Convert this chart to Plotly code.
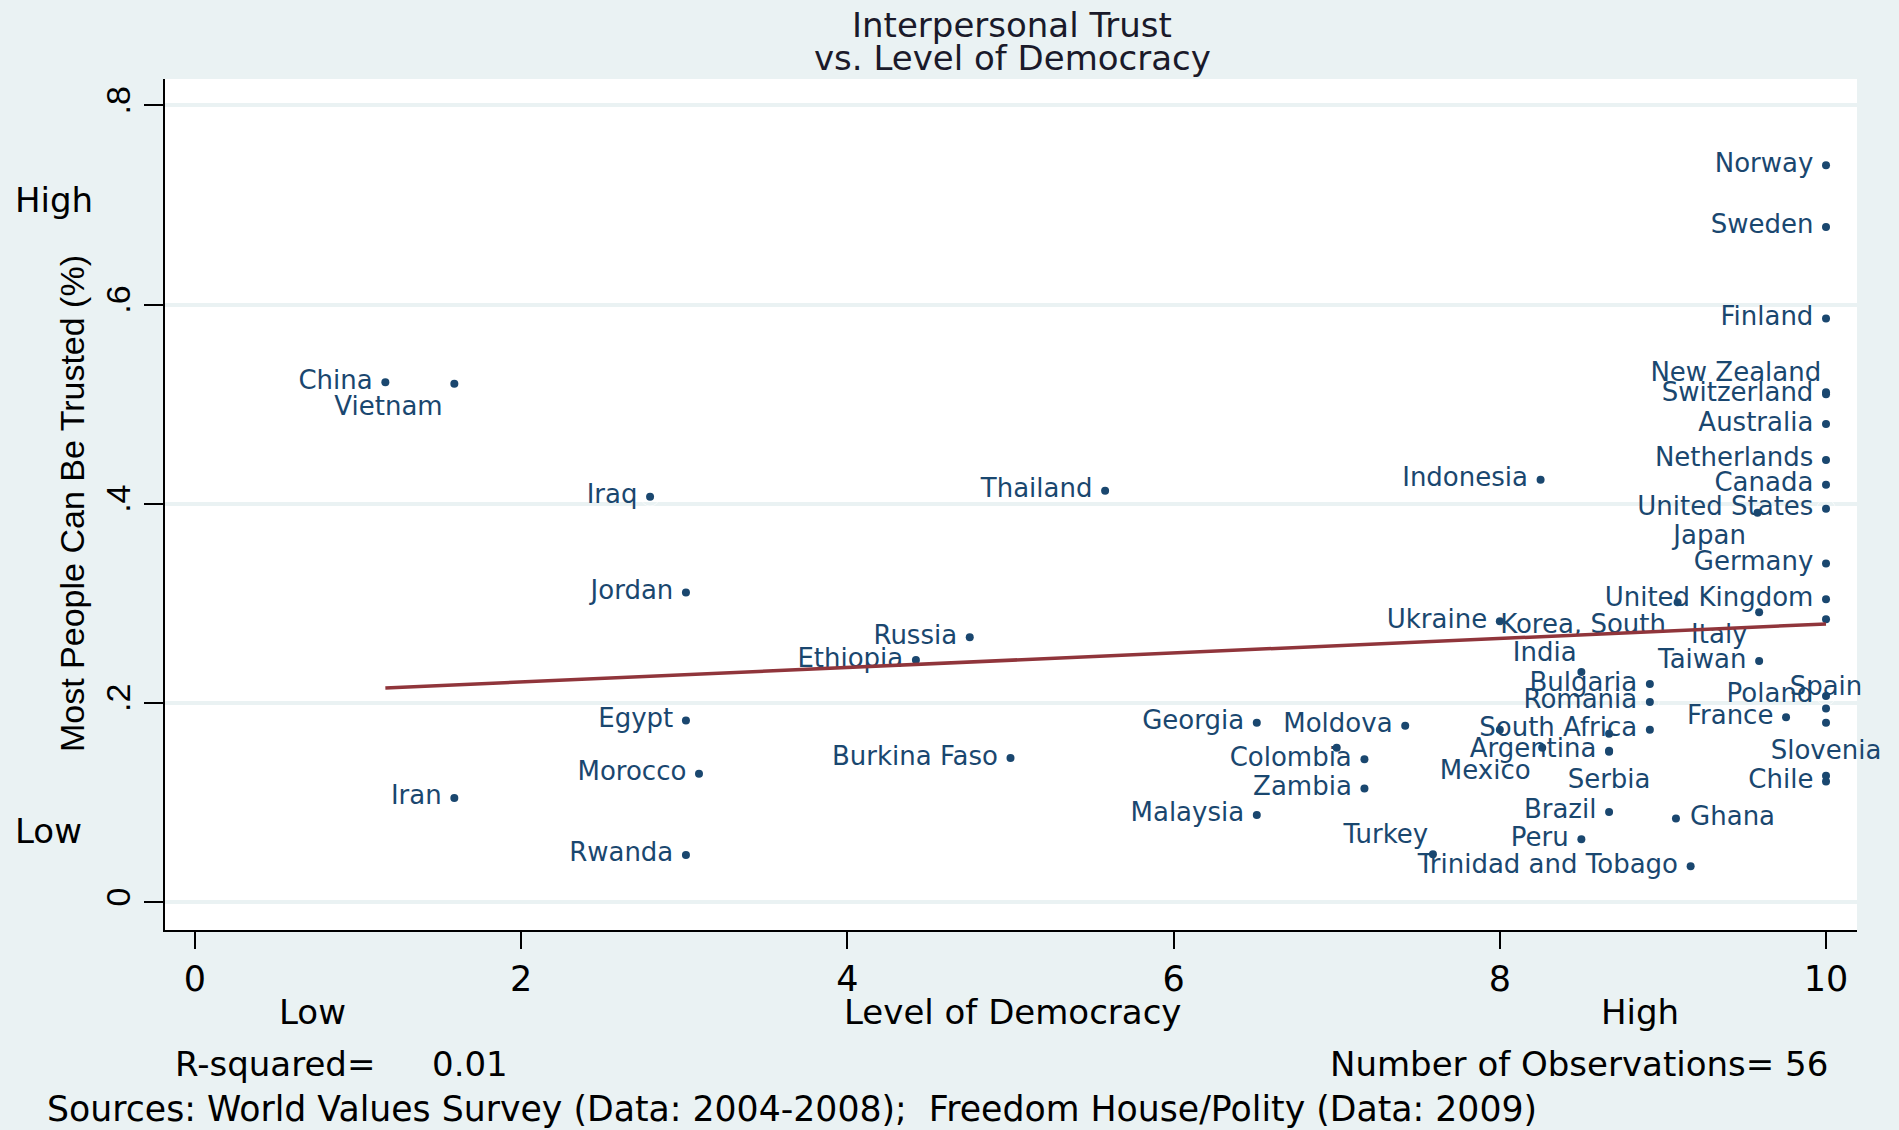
import numpy as np
import plotly.graph_objects as go

# ---------------- data ----------------
countries = [
    "Norway", "Sweden", "Finland", "New Zealand", "Switzerland", "Australia",
    "Netherlands", "Canada", "United States", "Japan", "Germany", "United Kingdom",
    "Korea, South", "Italy", "", "Ukraine", "Taiwan", "India", "Bulgaria", "Poland",
    "Romania", "Spain", "France", "Slovenia", "South Africa", "", "", "Mexico",
    "Argentina", "Serbia", "Chile", "", "Brazil", "Ghana", "Peru",
    "Trinidad and Tobago", "Turkey", "Malaysia", "Zambia", "Colombia", "",
    "Moldova", "Georgia", "Indonesia", "Thailand", "Russia", "Ethiopia",
    "Burkina Faso", "Egypt", "Morocco", "Iran", "Rwanda", "Jordan", "Iraq",
    "China", "Vietnam",
]
democracy = [
    10.0, 10.0, 10.0, 10.0, 10.0, 10.0,
    10.0, 10.0, 10.0, 9.58, 10.0, 10.0,
    9.09, 9.59, 10.0, 8.0, 9.59, 8.50, 8.92, 10.0,
    8.92, 10.0, 9.755, 10.0, 8.92, 8.0, 8.67, 8.26,
    8.67, 8.67, 10.0, 10.0, 8.67, 9.08, 8.50,
    9.17, 7.59, 6.51, 7.17, 7.17, 7.0,
    7.42, 6.51, 8.25, 5.58, 4.75, 4.42,
    5.0, 3.01, 3.09, 1.59, 3.01, 3.01, 2.79,
    1.167, 1.59,
]
trust = [
    0.740, 0.678, 0.586, 0.512, 0.510, 0.480,
    0.444, 0.419, 0.395, 0.391, 0.340, 0.304,
    0.301, 0.291, 0.284, 0.282, 0.242, 0.231, 0.219, 0.207,
    0.201, 0.1945, 0.1855, 0.180, 0.173, 0.173, 0.169, 0.155,
    0.152, 0.151, 0.121, 0.127, 0.0906, 0.084, 0.063,
    0.036, 0.048, 0.0875, 0.114, 0.1435, 0.155,
    0.177, 0.180, 0.424, 0.413, 0.266, 0.243,
    0.1447, 0.1824, 0.129, 0.1046, 0.0474, 0.311, 0.407,
    0.522, 0.5205,
]

x_tick_vals = [0, 2, 4, 6, 8, 10]
x_tick_text = ["0", "2", "4", "6", "8", "10"]
y_tick_vals = [0, 0.2, 0.4, 0.6, 0.8]
y_tick_text = ["0", ".2", ".4", ".6", ".8"]

r_squared_text = "0.01"
n_obs_text = "56"

# ---------------- styles ----------------
BG = "#EAF2F3"
NAVY = "#1A476F"
MAROON = "#90353B"
TXT = "DejaVu Sans"
ROT = "Liberation Sans"

label_pos = {
    "New Zealand": "top left", "Japan": "bottom left", "Korea, South": "bottom left",
    "Italy": "bottom left", "India": "top left", "Spain": "top center",
    "Slovenia": "bottom center", "Mexico": "bottom left", "Serbia": "bottom center",
    "Ghana": "middle right", "Turkey": "top left", "Vietnam": "bottom left",
}
# invisible marker size that controls the label offset, per label position
offset_size = {
    "middle left": 18.6, "middle right": 21, "top left": 6,
    "bottom left": 17, "bottom center": 25, "top center": 10,
}
positions = [label_pos.get(c, "middle left") for c in countries]
off_sizes = [offset_size[p] for p in positions]

fig = go.Figure()

# labels (with invisible spacing markers)
fig.add_trace(go.Scatter(
    x=democracy, y=trust, mode="markers+text", text=countries,
    textposition=positions,
    textfont=dict(family=TXT, size=26, color=NAVY),
    marker=dict(size=off_sizes, color="rgba(0,0,0,0)"),
    cliponaxis=False,
    hoverinfo="skip", showlegend=False,
))
# visible dots
fig.add_trace(go.Scatter(
    x=democracy, y=trust, mode="markers",
    marker=dict(size=8, color=NAVY),
    text=countries, hoverinfo="text", showlegend=False,
))
# linear fit
slope, intercept = np.polyfit(democracy, trust, 1)
fx = np.array([min(democracy), max(democracy)])
fy = intercept + slope * fx
fig.add_trace(go.Scatter(
    x=fx, y=fy, mode="lines", line=dict(color=MAROON, width=3.5),
    hoverinfo="skip", showlegend=False,
))

def ann(text, x, y, size=34, xanchor="center", family=TXT, angle=0, color="black"):
    fig.add_annotation(text=text, x=x, y=y, xref="paper", yref="paper",
                       xanchor=xanchor, yanchor="middle", showarrow=False,
                       textangle=angle, font=dict(family=family, size=size, color=color))

# px helpers: plot area l=165, t=79, w=1692, h=851
def px(xp):
    return (xp - 165) / 1692.0

def py(yp):
    return (930 - yp) / 851.0

ann("Interpersonal Trust", px(1012), py(24.5), size=34, color="#1a1a2a")
ann("vs. Level of Democracy", px(1012), py(58), size=34, color="#1a1a2a")
ann("Most People Can Be Trusted (%)", px(72), py(504), size=34, family=ROT, angle=-90)
ann("High", px(13), py(200), xanchor="left")
ann("Low", px(13), py(831), xanchor="left")
ann("Low", px(312), py(1012))
ann("Level of Democracy", px(1012), py(1012))
ann("High", px(1640), py(1012))
ann("R-squared=", px(173), py(1064), xanchor="left")
ann(r_squared_text, px(430), py(1064), xanchor="left")
ann("Number of Observations= " + n_obs_text, px(1830), py(1064), xanchor="right")
ann("Sources: World Values Survey (Data: 2004-2008);  Freedom House/Polity (Data: 2009)",
    px(45), py(1109), xanchor="left", size=34.7)

fig.update_layout(
    width=1899, height=1130,
    margin=dict(l=165, r=42, t=79, b=200, pad=0),
    paper_bgcolor=BG, plot_bgcolor="white",
    showlegend=False,
    xaxis=dict(
        range=[-0.184, 10.19], tickmode="array", tickvals=x_tick_vals, ticktext=x_tick_text,
        ticks="outside", ticklen=17, tickwidth=2, tickcolor="black",
        showline=True, linecolor="black", linewidth=2,
        showgrid=False, zeroline=False,
        tickfont=dict(family=TXT, size=35, color="black"),
    ),
    yaxis=dict(
        range=[-0.028, 0.8265], tickmode="array", tickvals=y_tick_vals, ticktext=y_tick_text,
        tickangle=-90,
        ticks="outside", ticklen=19, tickwidth=2, tickcolor="black",
        showline=True, linecolor="black", linewidth=2,
        showgrid=True, gridcolor=BG, gridwidth=4, zeroline=False,
        tickfont=dict(family=ROT, size=34, color="black"),
    ),
)

fig.write_html("out.html", include_plotlyjs=True,
               config={"displayModeBar": False},
               post_script="document.body.style.margin='0';document.body.style.overflow='hidden';")
